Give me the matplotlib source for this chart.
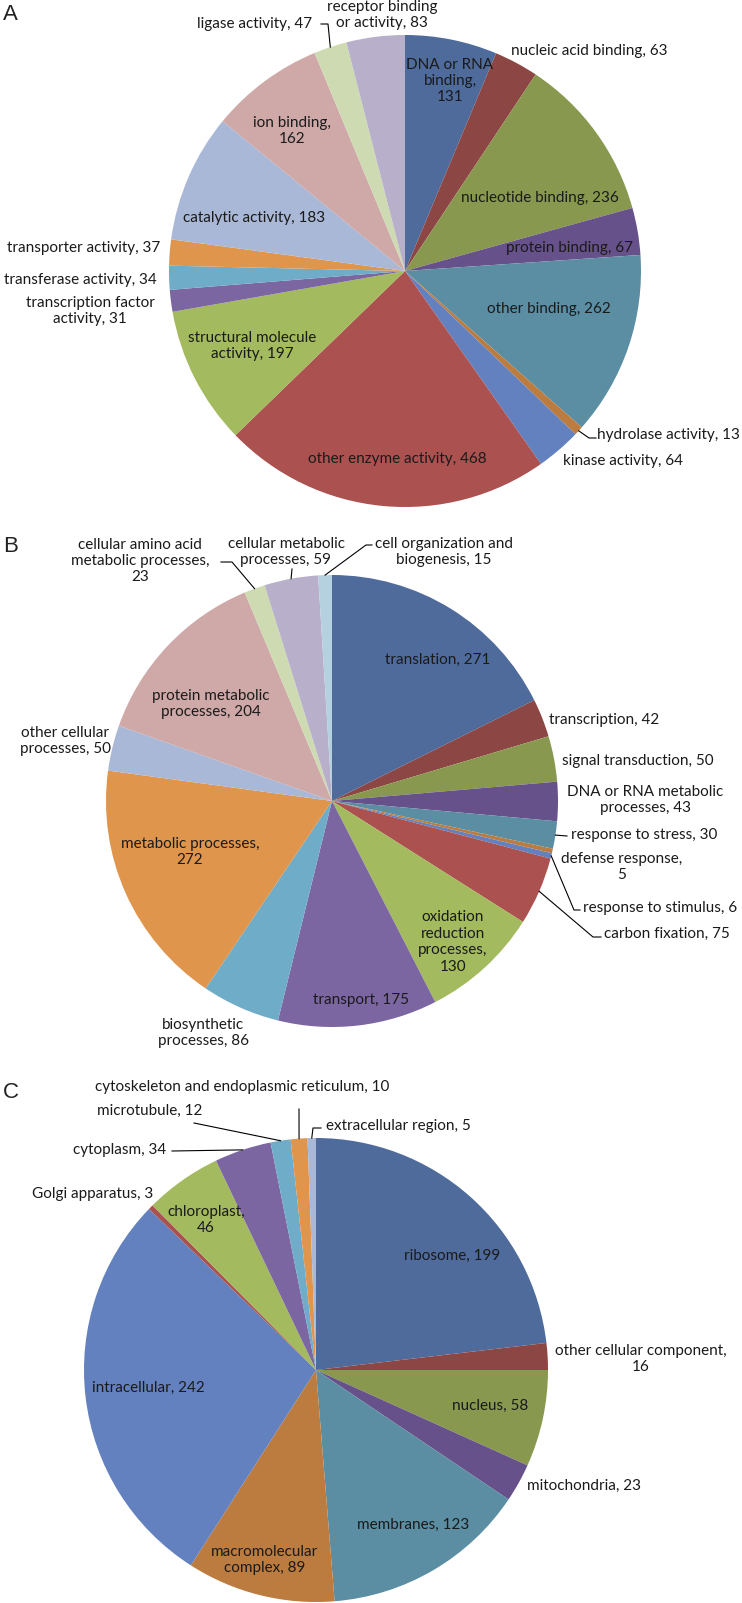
import matplotlib.pyplot as plt
import numpy as np

plt.rcParams['font.family'] = ['Lato', 'DejaVu Sans']

# Panel A - molecular function (clockwise from 12 o'clock)
a_labels = ['DNA or RNA\nbinding,\n131', 'nucleic acid binding, 63', 'nucleotide binding, 236',
            'protein binding, 67', 'other binding, 262', 'hydrolase activity, 13',
            'kinase activity, 64', 'other enzyme activity, 468', 'structural molecule\nactivity, 197',
            'transcription factor\nactivity, 31', 'transferase activity, 34', 'transporter activity, 37',
            'catalytic activity, 183', 'ion binding,\n162', 'ligase activity, 47',
            'receptor binding\nor activity, 83']
a_values = [131, 63, 236, 67, 262, 13, 64, 468, 197, 31, 34, 37, 183, 162, 47, 83]

# Panel B - biological process
b_labels = ['translation, 271', 'transcription, 42', 'signal transduction, 50',
            'DNA or RNA metabolic\nprocesses, 43', 'response to stress, 30', 'defense response,\n5',
            'response to stimulus, 6', 'carbon fixation, 75', 'oxidation\nreduction\nprocesses,\n130',
            'transport, 175', 'biosynthetic\nprocesses, 86', 'metabolic processes,\n272',
            'other cellular\nprocesses, 50', 'protein metabolic\nprocesses, 204',
            'cellular amino acid\nmetabolic processes,\n23', 'cellular metabolic\nprocesses, 59',
            'cell organization and\nbiogenesis, 15']
b_values = [271, 42, 50, 43, 30, 5, 6, 75, 130, 175, 86, 272, 50, 204, 23, 59, 15]

# Panel C - cellular component
c_labels = ['ribosome, 199', 'other cellular component,\n16', 'nucleus, 58', 'mitochondria, 23',
            'membranes, 123', 'macromolecular\ncomplex, 89', 'intracellular, 242',
            'Golgi apparatus, 3', 'chloroplast,\n46', 'cytoplasm, 34', 'microtubule, 12',
            'cytoskeleton and endoplasmic reticulum, 10', 'extracellular region, 5']
c_values = [199, 16, 58, 23, 123, 89, 242, 3, 46, 34, 12, 10, 5]

palette = ['#4F6B9C', '#8C4644', '#88994F', '#66518A', '#5B8EA2', '#BC7C3F',
           '#6381BF', '#AB5150', '#A3BA5E', '#7C66A2', '#6EACC7', '#E0954D',
           '#AAB8D7', '#CFA8A8', '#CEDBB2', '#B8AFCA', '#B5D0DE']

# layout: label anchor (x, y, ha) in pixels, leader elbows
a_pos = [(450, 81, 'center'), (589, 51, 'center'), (540, 198, 'center'), (570, 248, 'center'),
         (549, 309, 'center'), (597, 435, 'left'), (623, 461, 'center'), (397, 459, 'center'),
         (252, 346, 'center'), (90, 311, 'center'), (80, 280, 'center'), (84, 248, 'center'),
         (254, 218, 'center'), (292, 131, 'center'), (255, 24, 'center'), (382, 15, 'center')]
a_lead = {5: [(596, 438), (589, 438)], 14: [(321, 24), (328, 24)]}

b_pos = [(438, 660, 'center'), (604, 720, 'center'), (638, 761, 'center'), (645, 800, 'center'),
         (644, 835, 'center'), (622, 867, 'center'), (660, 908, 'center'), (667, 934, 'center'),
         (453, 942, 'center'), (361, 1000, 'center'), (203, 1033, 'center'), (190, 852, 'center'),
         (65, 741, 'center'), (211, 704, 'center'), (140, 561, 'center'), (286, 552, 'center'),
         (444, 552, 'center')]
b_lead = {4: [(567, 836)], 6: [(580, 910), (574, 910)], 7: [(601, 937), (593, 937)],
          14: [(221, 562), (232, 562)], 15: [(292, 569)], 16: [(372, 545), (366, 545)]}

c_pos = [(452, 1256, 'center'), (641, 1359, 'center'), (490, 1406, 'center'), (584, 1486, 'center'),
         (413, 1525, 'center'), (265, 1560, 'center'), (148, 1388, 'center'), (153, 1194, 'right'),
         (206, 1220, 'center'), (120, 1150, 'center'), (150, 1111, 'center'), (242, 1087, 'center'),
         (398, 1126, 'center')]
c_lead = {9: [(172, 1151)], 10: [(194, 1123)], 11: [(299, 1109)], 12: [(321, 1128), (313, 1128)]}


def draw_pie(ax, values, labels, center, radius, pos, leaders):
    wedges, _ = ax.pie(values, colors=palette[:len(values)], startangle=-90, counterclock=True,
                       center=center, radius=radius, wedgeprops=dict(linewidth=0))
    for i, (w, lab) in enumerate(zip(wedges, labels)):
        x, y, ha = pos[i]
        ax.text(x, y, lab, ha=ha, va='center', multialignment='center', fontsize=11,
                color='#1a1a1a', linespacing=1.22)
        if i in leaders:
            mid = np.deg2rad((w.theta1 + w.theta2) / 2)
            edge = (center[0] + radius * np.cos(mid), center[1] + radius * np.sin(mid))
            xs, ys = zip(*(leaders[i] + [edge]))
            ax.plot(xs, ys, color='black', lw=0.8)


fig = plt.figure(figsize=(7.42, 16.03), dpi=100)
ax = fig.add_axes([0, 0, 1, 1])

draw_pie(ax, a_values, a_labels, (405, 271), 236, a_pos, a_lead)
draw_pie(ax, b_values, b_labels, (332, 801), 226, b_pos, b_lead)
draw_pie(ax, c_values, c_labels, (316, 1370), 232, c_pos, c_lead)

for letter, y in [('A', 15), ('B', 547), ('C', 1092)]:
    ax.text(3, y, letter, fontsize=16, family='Liberation Sans', ha='left', va='center', color='#222222')

ax.set_xlim(0, 742)
ax.set_ylim(1603, 0)
ax.set_aspect('auto')
ax.axis('off')

fig.savefig('out.png', dpi=100)
